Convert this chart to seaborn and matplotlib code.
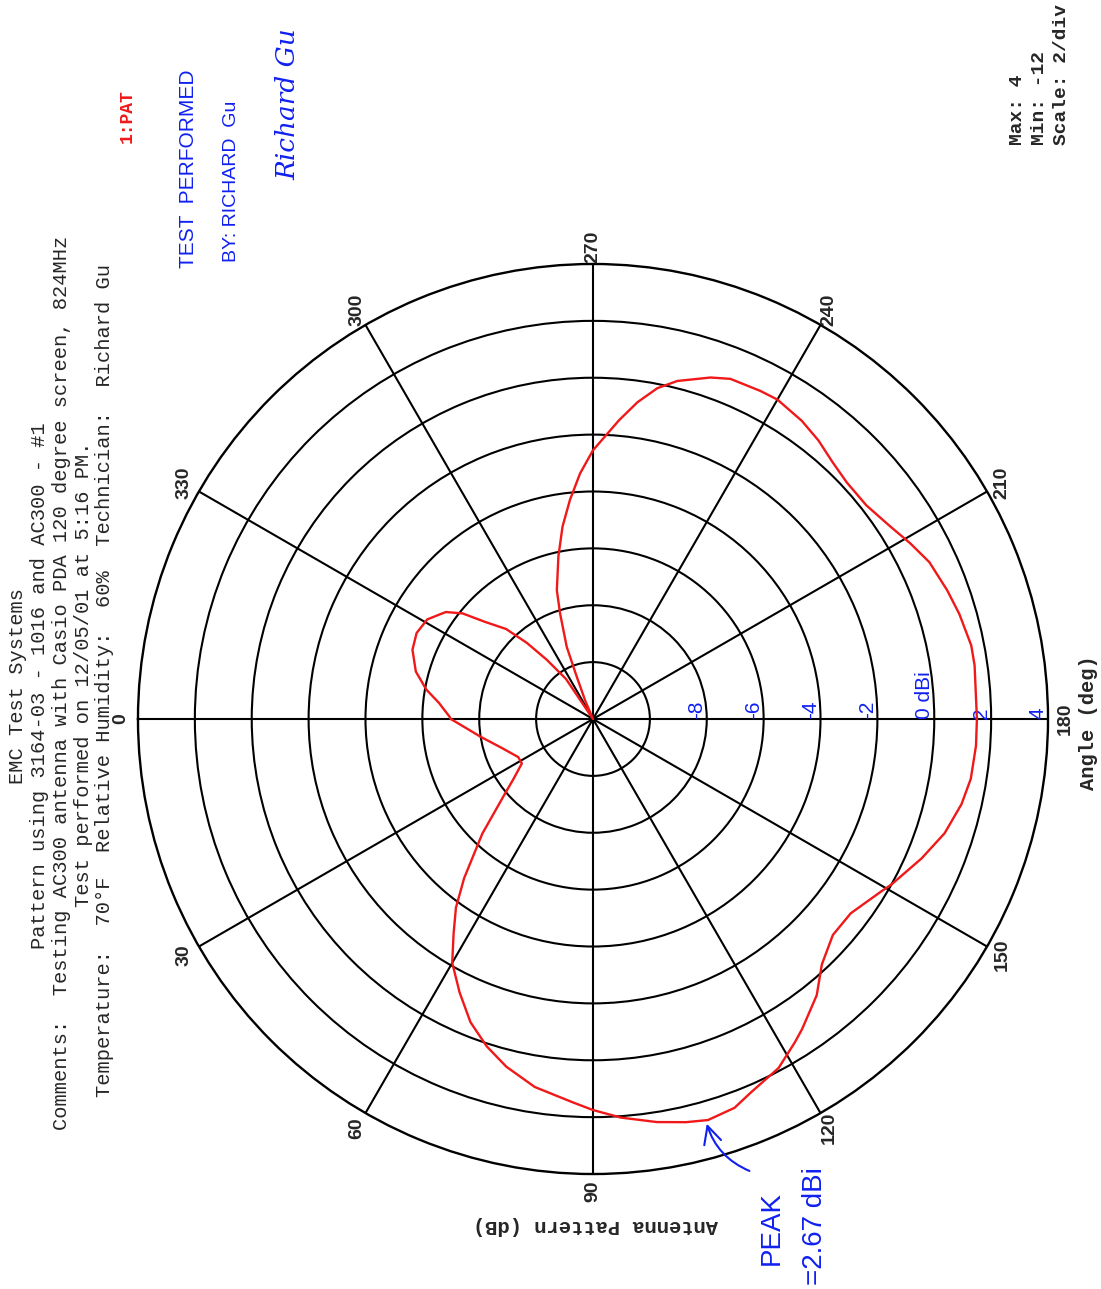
import numpy as np
import matplotlib
matplotlib.use("Agg")
import matplotlib.pyplot as plt
from matplotlib.patches import FancyArrowPatch
import seaborn as sns

# Measured antenna pattern (angle in degrees, gain in dB)
pattern_angle_deg = [0, 3, 9, 17, 27, 32, 37, 41, 46, 51, 54, 57, 60, 64, 68, 72, 76, 81,
                     87, 90, 94, 99, 103, 106, 110, 113, 118, 122, 124, 129, 133, 138, 143,
                     149, 151, 157, 162, 167, 171, 176, 180, 188, 191, 196, 200, 205, 209,
                     213, 218, 223, 227, 231, 235, 240, 243, 248, 251, 256, 259, 262, 265,
                     270, 273, 276, 279, 282, 285.7, 287.3, 290, 291, 293, 295, 300, 304,
                     308, 311, 314, 318, 321, 324, 329, 334, 339, 345, 350, 354, 359, 360]
pattern_gain_db = [-7.0, -7.4, -8.0, -8.6, -9.05, -9.05, -8.5, -7.8, -6.4, -4.8, -3.8, -3.0,
                   -2.1, -1.3, -0.5, 0.1, 0.6, 1.1, 1.5, 1.75, 2.05, 2.35, 2.55, 2.67, 2.55,
                   2.25, 1.9, 1.4, 1.15, 0.5, -0.2, -0.65, -0.65, -0.2, 0.0, 0.55, 1.0, 1.3,
                   1.45, 1.5, 1.5, 1.55, 1.55, 1.4, 1.25, 1.05, 0.75, 0.45, 0.2, 0.2, 0.35,
                   0.6, 0.8, 0.97, 0.95, 0.9, 0.7, 0.25, -0.15, -0.75, -1.45, -2.55, -3.35,
                   -4.25, -5.15, -6.15, -7.3, -8.1, -9.3, -10.4, -11.3, -12.0, -12.0, -10.3,
                   -9.35, -8.45, -7.6, -6.9, -6.1, -5.6, -5.2, -5.1, -5.2, -5.55, -6.05,
                   -6.55, -6.95, -7.0]

angle_ticks = list(range(0, 360, 30))
ring_ticks = [-10, -8, -6, -4, -2, 0, 2]
r_min, r_max = -12, 4
ring_notes = ["-8", "-6", "-4", "-2", "0 dBi", "2", "4"]
ring_note_values = [-8, -6, -4, -2, 0, 2, 4]

W, H = 1101, 1289


def fx(px):
    return px / W


def fy(py):
    return 1 - py / H


sns.set_theme(style="white")
mono = ["Liberation Mono", "DejaVu Sans Mono"]
sans = ["Liberation Sans", "DejaVu Sans"]
blue = "#1020f0"
red = "#f01818"

fig = plt.figure(figsize=(W / 100, H / 100), dpi=100)
fig.patch.set_facecolor("white")
ax = fig.add_axes([0.1253, 0.0892, 0.8266, 0.706], projection="polar")
ax.set_theta_zero_location("W")
ax.set_theta_direction(1)

theta = np.deg2rad(pattern_angle_deg)
gain = np.clip(pattern_gain_db, r_min, r_max)
sns.lineplot(x=theta, y=gain, ax=ax, color=red, linewidth=1.7,
             sort=False, estimator=None, zorder=5)

ax.set_ylim(r_min, r_max)
ax.set_yticks(ring_ticks)
ax.set_yticklabels([])
ax.set_xticks(np.deg2rad(angle_ticks))
ax.set_xticklabels([])
ax.grid(True, color="black", linewidth=1.5)
ax.spines["polar"].set_color("black")
ax.spines["polar"].set_linewidth(1.7)
ax.set_xlabel("")
ax.set_ylabel("")
ax.set_facecolor("white")

for a in angle_ticks:
    ax.text(np.deg2rad(a), 4.6, str(a), rotation=90, ha="center", va="center",
            fontsize=14, family=sans, weight="bold", clip_on=False)

# handwritten ring labels along the 180 deg spoke
for note, v in zip(ring_notes, ring_note_values):
    ax.text(np.pi, v - 0.35, note, rotation=90, ha="center", va="bottom",
            fontsize=15, color=blue, family=sans, clip_on=False)

# header block
fig.text(fx(18), fy(686), "EMC Test Systems", rotation=90, ha="center", va="center",
         fontsize=14.7, family=mono)
fig.text(fx(40), fy(686), "Pattern using 3164-03 - 1016 and AC300 - #1", rotation=90,
         ha="center", va="center", fontsize=14.7, family=mono)
fig.text(fx(62), fy(1130),
         "Comments:  Testing AC300 antenna with Casio PDA 120 degree screen, 824MHz",
         rotation=90, ha="center", va="bottom", fontsize=14.7, family=mono)
fig.text(fx(84), fy(674), "Test performed on 12/05/01 at 5:16 PM.", rotation=90,
         ha="center", va="center", fontsize=14.7, family=mono)
fig.text(fx(105), fy(1097),
         "Temperature:  70°F  Relative Humidity:  60%  Technician:  Richard Gu",
         rotation=90, ha="center", va="bottom", fontsize=14.7, family=mono)

fig.text(fx(127), fy(143), "1:PAT", rotation=90, ha="center", va="bottom",
         fontsize=13, family=mono, weight="bold", color=red)

for i, line in enumerate(["Max: 4", "Min: -12", "Scale: 2/div"]):
    fig.text(fx(1018 + 22 * i), fy(145), line, rotation=90, ha="center", va="bottom",
             fontsize=14, family=mono, weight="bold")

fig.text(fx(1088), fy(723), "Angle (deg)", rotation=90, ha="center", va="center",
         fontsize=14.7, family=mono, weight="bold")
fig.text(fx(595), fy(1225), "Antenna Pattern (dB)", rotation=180, ha="center",
         va="center", fontsize=14.7, family=mono, weight="bold")

# handwritten notes
fig.text(fx(188), fy(268), "TEST  PERFORMED", rotation=90, ha="center", va="bottom",
         fontsize=15, family=sans, color=blue)
fig.text(fx(231), fy(262), "BY: RICHARD  Gu", rotation=90, ha="center", va="bottom",
         fontsize=14, family=sans, color=blue)
fig.text(fx(288), fy(180), "Richard Gu", rotation=90, ha="center", va="bottom",
         fontsize=19, family=["DejaVu Serif"], style="italic", color=blue)
fig.text(fx(772), fy(1265), "PEAK", rotation=90, ha="center", va="bottom",
         fontsize=20, family=sans, color=blue)
fig.text(fx(815), fy(1285), "=2.67 dBi", rotation=90, ha="center", va="bottom",
         fontsize=20, family=sans, color=blue)

arrow = FancyArrowPatch((fx(752), fy(1172)), (fx(706), fy(1121)),
                        transform=fig.transFigure, connectionstyle="arc3,rad=-0.25",
                        arrowstyle="->,head_length=0.9,head_width=0.45",
                        color=blue, linewidth=1.5, mutation_scale=14)
fig.patches.append(arrow)

fig.savefig("out.png", dpi=100, facecolor="white")
